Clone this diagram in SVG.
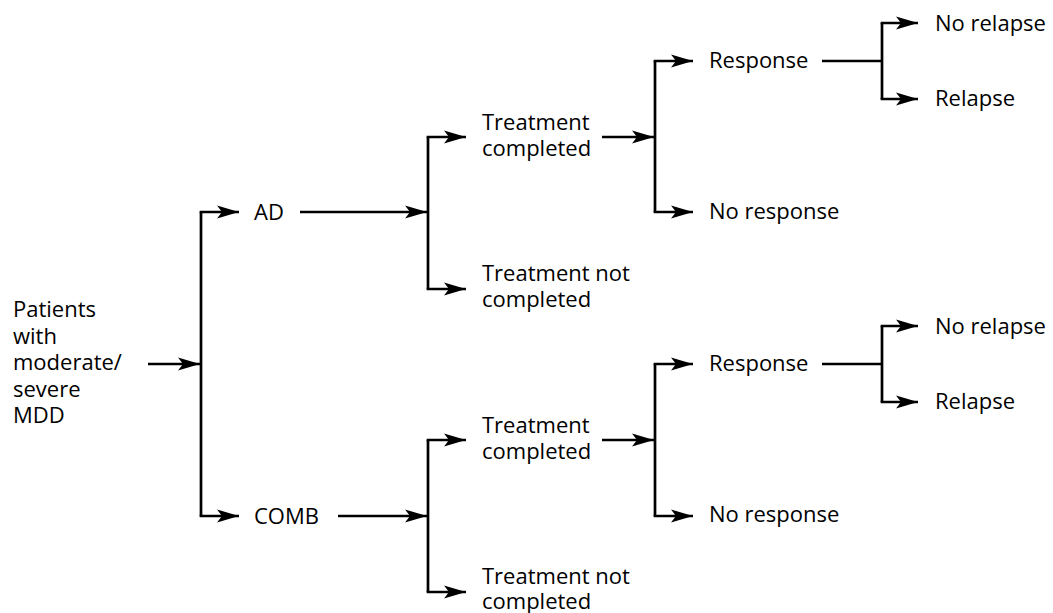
<svg xmlns="http://www.w3.org/2000/svg" width="1053" height="613" viewBox="0 0 1053 613">
<style>
text{font-family:"Open Sans","Noto Sans","Liberation Sans",sans-serif;font-size:22px;fill:#000}
.c line,.c path{stroke:#000;stroke-width:2.7;fill:none}
.a{marker-end:url(#ah)}
</style>
<defs>
<marker id="ah" markerUnits="userSpaceOnUse" markerWidth="24" markerHeight="14" refX="22" refY="6.5" orient="auto" overflow="visible">
<path d="M0,0 L22,6.5 L0,13 L5,6.5 Z" fill="#000"/>
</marker>
</defs>
<rect width="1053" height="613" fill="#fff"/>
<g id="connectors" class="c">
<line class="a" x1="148" y1="364" x2="200" y2="364"/>
<path d="M201,212 V516"/>
<line class="a" x1="300" y1="212" x2="427" y2="212"/>
<path d="M428,137 V289"/>
<line class="a" x1="602" y1="137" x2="654" y2="137"/>
<path d="M655,61 V212"/>
<line x1="822" y1="61" x2="882" y2="61"/>
<path d="M882,23 V99"/>
<line class="a" x1="338" y1="516" x2="427" y2="516"/>
<path d="M428,440 V592"/>
<line class="a" x1="602" y1="440" x2="654" y2="440"/>
<path d="M655,364 V516"/>
<line x1="822" y1="364" x2="882" y2="364"/>
<path d="M882,326 V402"/>
<path class="a" d="M199.65,212 H239"/>
<path class="a" d="M199.65,516 H239"/>
<path class="a" d="M426.65,137 H466"/>
<path class="a" d="M426.65,289 H466"/>
<path class="a" d="M426.65,440 H466"/>
<path class="a" d="M426.65,592 H466"/>
<path class="a" d="M653.65,61 H693"/>
<path class="a" d="M653.65,212 H693"/>
<path class="a" d="M653.65,364 H693"/>
<path class="a" d="M653.65,516 H693"/>
<path class="a" d="M880.65,23 H918"/>
<path class="a" d="M880.65,99 H918"/>
<path class="a" d="M880.65,326 H918"/>
<path class="a" d="M880.65,402 H918"/>
</g>
<g id="patients"><text x="13" y="317">Patients</text><text x="13" y="344">with</text><text x="13" y="370">moderate/</text><text x="13" y="397">severe</text><text x="13" y="423">MDD</text></g>
<g id="ad"><text x="254" y="220">AD</text></g>
<g id="comb"><text x="254" y="524">COMB</text></g>
<g id="ad-completed"><text x="482" y="130">Treatment</text><text x="482" y="156">completed</text></g>
<g id="ad-notcompleted"><text x="482" y="281">Treatment not</text><text x="482" y="307">completed</text></g>
<g id="ad-response"><text x="709" y="68">Response</text></g>
<g id="ad-noresponse"><text x="709" y="219">No response</text></g>
<g id="ad-norelapse"><text x="935" y="31">No relapse</text></g>
<g id="ad-relapse"><text x="935" y="106">Relapse</text></g>
<g id="comb-completed"><text x="482" y="433">Treatment</text><text x="482" y="459">completed</text></g>
<g id="comb-notcompleted"><text x="482" y="584">Treatment not</text><text x="482" y="609">completed</text></g>
<g id="comb-response"><text x="709" y="371">Response</text></g>
<g id="comb-noresponse"><text x="709" y="522">No response</text></g>
<g id="comb-norelapse"><text x="935" y="334">No relapse</text></g>
<g id="comb-relapse"><text x="935" y="409">Relapse</text></g>
</svg>
